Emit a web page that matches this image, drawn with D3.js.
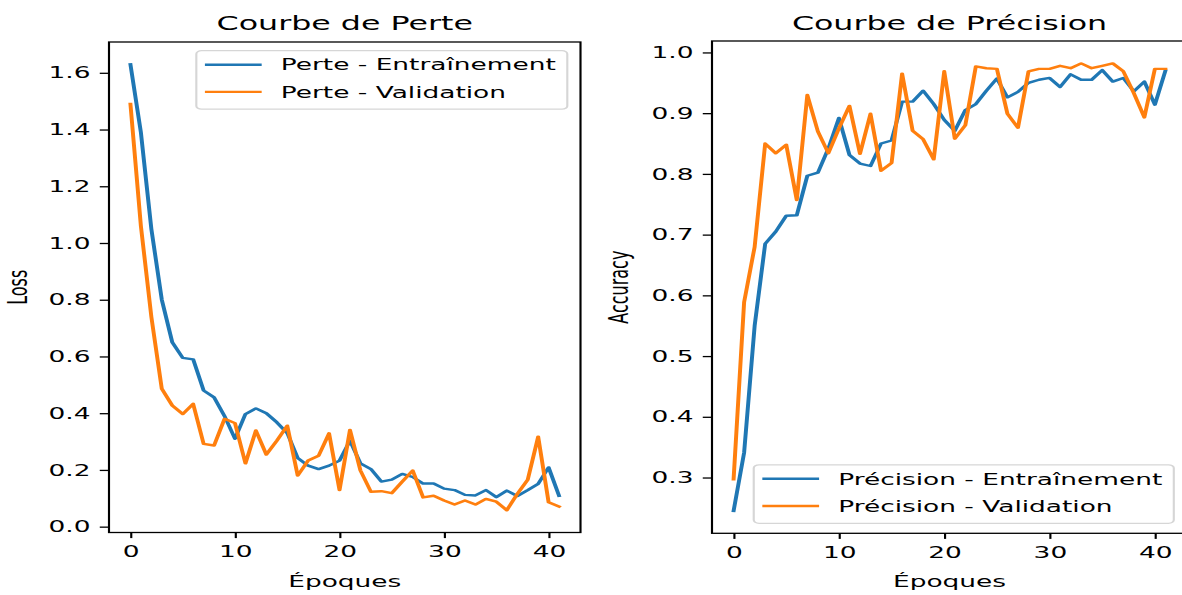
<!DOCTYPE html>
<html>
<head>
<meta charset="utf-8">
<script src="https://cdn.jsdelivr.net/npm/d3@7"></script>
<style>
  html, body { margin: 0; padding: 0; background: #fff; }
  svg { display: block; }
  text { font-family: "DejaVu Sans", sans-serif; fill: #000; }
</style>
</head>
<body>
<svg id="fig" width="1182" height="595"></svg>
<script>
// ---- data -------------------------------------------------------------
const epochs = d3.range(42);
const xTicks = [0, 10, 20, 30, 40];
const lossTicks = [0.0, 0.2, 0.4, 0.6, 0.8, 1.0, 1.2, 1.4, 1.6];
const accTicks = [0.3, 0.4, 0.5, 0.6, 0.7, 0.8, 0.9, 1.0];

const trainLoss = [1.63, 1.39, 1.05, 0.80, 0.65, 0.595, 0.59, 0.48, 0.456, 0.39,
  0.31, 0.397, 0.417, 0.40, 0.368, 0.33, 0.242, 0.215, 0.203, 0.215,
  0.233, 0.303, 0.223, 0.203, 0.159, 0.166, 0.186, 0.175, 0.152, 0.152,
  0.134, 0.129, 0.112, 0.110, 0.129, 0.104, 0.127, 0.108, 0.129, 0.151,
  0.209, 0.109];
const valLoss = [1.49, 1.06, 0.74, 0.486, 0.427, 0.397, 0.433, 0.292, 0.286, 0.380,
  0.365, 0.223, 0.339, 0.254, 0.303, 0.356, 0.180, 0.233, 0.250, 0.329,
  0.129, 0.341, 0.198, 0.123, 0.125, 0.118, 0.159, 0.198, 0.103, 0.109,
  0.092, 0.078, 0.092, 0.078, 0.098, 0.088, 0.058, 0.115, 0.165, 0.317,
  0.086, 0.071];
const trainAcc = [0.245, 0.341, 0.55, 0.685, 0.705, 0.731, 0.732, 0.797, 0.802, 0.842,
  0.892, 0.831, 0.817, 0.813, 0.850, 0.855, 0.919, 0.919, 0.937, 0.915,
  0.889, 0.871, 0.905, 0.915, 0.937, 0.957, 0.926, 0.935, 0.950, 0.955,
  0.958, 0.943, 0.964, 0.955, 0.955, 0.971, 0.952, 0.958, 0.936, 0.952,
  0.914, 0.970];
const valAcc = [0.297, 0.589, 0.680, 0.850, 0.834, 0.848, 0.757, 0.930, 0.870, 0.834,
  0.875, 0.912, 0.833, 0.899, 0.805, 0.818, 0.965, 0.871, 0.857, 0.824,
  0.969, 0.858, 0.880, 0.977, 0.974, 0.973, 0.899, 0.876, 0.969, 0.973,
  0.973, 0.978, 0.974, 0.982, 0.974, 0.978, 0.982, 0.969, 0.933, 0.893,
  0.973, 0.973];

const lossNames = ["Perte - Entraînement", "Perte - Validation"];
const accNames = ["Précision - Entraînement", "Précision - Validation"];
const colors = ["#1f77b4", "#ff7f0e"];

// ---- figure frame -----------------------------------------------------
// Everything is laid out in a horizontally compressed frame and widened by SX.
const SX = 1.65;
const svg = d3.select("#fig");
const root = svg.append("g").attr("transform", `scale(${SX},1)`);

const FS = 16;          // tick / label / legend font size
const TITLE_FS = 19.2;  // title font size
const LW = 2.4;         // data line width
const SPINE = 1.3;

function padded(values, frac) {
  const [lo, hi] = d3.extent(values);
  const p = (hi - lo) * frac;
  return [lo - p, hi + p];
}

function panel(o) {
  const g = root.append("g");
  const left = o.px0 / SX, right = o.px1 / SX;
  const top = o.top, bottom = o.bottom;

  const x = d3.scaleLinear().domain(padded(epochs, 0.05)).range([left, right]);
  const y = d3.scaleLinear().domain(padded(o.series.flat(), 0.05)).range([bottom, top]);

  // bottom axis
  const xa = g.append("g")
    .attr("transform", `translate(0,${bottom})`)
    .call(d3.axisBottom(x).tickValues(xTicks).tickSize(5.6).tickPadding(8).tickFormat(d3.format("d")));
  // left axis
  const ya = g.append("g")
    .attr("transform", `translate(${left},0)`)
    .call(d3.axisLeft(y).tickValues(o.ticks).tickSize(5.6).tickPadding(5.6).tickFormat(d3.format(".1f")));
  [xa, ya].forEach(a => {
    a.attr("font-size", null).attr("font-family", null);
    a.select(".domain").remove();
    a.selectAll(".tick line").attr("stroke", "#000").attr("stroke-width", SPINE);
    a.selectAll(".tick text").attr("font-size", FS).attr("fill", "#000");
  });

  // data lines
  const line = (vals) => d3.line().x((d, i) => x(epochs[i])).y(d => y(d))(vals);
  o.series.forEach((vals, k) => {
    g.append("path")
      .attr("d", line(vals))
      .attr("fill", "none")
      .attr("stroke", colors[k])
      .attr("stroke-width", LW)
      .attr("stroke-linejoin", "round")
      .attr("stroke-linecap", "square");
  });

  // spines
  g.append("rect")
    .attr("x", left).attr("y", top)
    .attr("width", right - left).attr("height", bottom - top)
    .attr("fill", "none").attr("stroke", "#000").attr("stroke-width", SPINE);

  // title
  g.append("text")
    .attr("x", (left + right) / 2).attr("y", o.titleY)
    .attr("text-anchor", "middle").attr("font-size", TITLE_FS)
    .text(o.title);

  // x label
  g.append("text")
    .attr("x", (left + right) / 2).attr("y", 587)
    .attr("text-anchor", "middle").attr("font-size", FS)
    .text("Époques");

  // y label
  g.append("text")
    .attr("transform", `translate(${o.ylabelX / SX},${(top + bottom) / 2}) rotate(-90)`)
    .attr("text-anchor", "middle").attr("font-size", FS)
    .text(o.ylabel);

  // legend
  const lg = g.append("g");
  const texts = o.names.map((n, i) => lg.append("text").attr("font-size", FS).text(n));
  const tw = d3.max(texts, t => t.node().getComputedTextLength());
  const lw = 6.4 + 32 + 12.8 + tw + 7;
  const lh = 58.5;
  const lx = right - 8 - lw;
  const ly = o.legendTop ? top + 8.7 : bottom - 10 - lh;
  lg.insert("rect", ":first-child")
    .attr("x", lx).attr("y", ly).attr("width", lw).attr("height", lh)
    .attr("rx", 3.2).attr("ry", 3.2)
    .attr("fill", "#fff").attr("fill-opacity", 0.8)
    .attr("stroke", "#cccccc").attr("stroke-opacity", 0.8).attr("stroke-width", SPINE);
  o.names.forEach((n, i) => {
    const cy = ly + 14 + i * 27.2;
    lg.append("line")
      .attr("x1", lx + 6.4).attr("x2", lx + 6.4 + 32)
      .attr("y1", cy).attr("y2", cy)
      .attr("stroke", colors[i]).attr("stroke-width", LW).attr("stroke-linecap", "square");
    texts[i].attr("x", lx + 51.2).attr("y", cy + 5.8);
  });
}

panel({
  px0: 109, px1: 580.5, top: 42, bottom: 532.5,
  series: [trainLoss, valLoss], ticks: lossTicks,
  title: "Courbe de Perte", titleY: 30, ylabel: "Loss", ylabelX: 27,
  names: lossNames, legendTop: true
});

panel({
  px0: 712, px1: 1187, top: 41, bottom: 533.3,
  series: [trainAcc, valAcc], ticks: accTicks,
  title: "Courbe de Précision", titleY: 30, ylabel: "Accuracy", ylabelX: 628,
  names: accNames, legendTop: false
});
</script>
</body>
</html>
